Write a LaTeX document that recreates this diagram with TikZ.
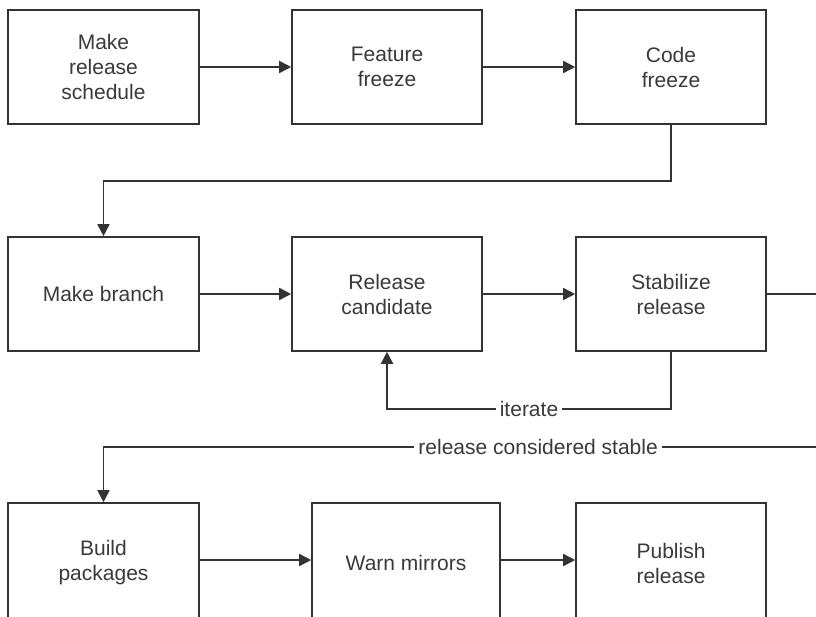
\documentclass[tikz,border=0pt]{standalone}
\usepackage{fontspec}
\setmainfont{Liberation Sans}
\usetikzlibrary{arrows.meta}
\definecolor{linec}{HTML}{333333}
\definecolor{textc}{HTML}{3A3A3A}
\tikzset{
  stepbox/.style={draw=linec, line width=1.6pt, minimum width=190pt, minimum height=114pt,
    inner sep=0pt, align=center, text=textc,
    font=\fontsize{21pt}{25pt}\selectfont},
  conn/.style={draw=linec, line width=1.6pt},
  arr/.style={conn, -{Triangle[length=12pt,width=12pt]}},
  lbl/.style={fill=white, inner xsep=4pt, inner ysep=1pt, text=textc,
    font=\fontsize{21pt}{25pt}\selectfont}
}
\begin{document}
\begin{tikzpicture}[x=1pt,y=-1pt]
\useasboundingbox (0,0) rectangle (816,616);
\fill[white] (0,0) rectangle (816,616);
% row 1
\node[stepbox, minimum width=191pt] (sched) at (103.5,67) {Make\\release\\schedule};
\node[stepbox] (feat) at (387,67) {Feature\\freeze};
\node[stepbox] (code) at (671,67) {Code\\freeze};
% row 2
\node[stepbox, minimum width=191pt] (branch) at (103.5,294) {Make branch};
\node[stepbox] (cand) at (387,294) {Release\\candidate};
\node[stepbox] (stab) at (671,294) {Stabilize\\release};
% row 3 (bottom edges lie below the picture)
\node[stepbox, minimum width=191pt, minimum height=120pt] (build) at (103.5,563) {Build\\packages};
\node[stepbox, minimum width=188pt, minimum height=120pt] (warn) at (406,563) {Warn mirrors};
\node[stepbox, minimum height=120pt] (pub) at (671,563) {Publish\\release};
% helper coordinates
\coordinate (c1) at (671,181);
\coordinate (c2) at (103.5,181);
\coordinate (it1) at (671,409);
\coordinate (it2) at (387,409);
\coordinate (outR) at (816,294);
\coordinate (inR) at (816,447);
\coordinate (st2) at (103.5,447);
% connectors
\draw[arr] (sched) -- (feat);
\draw[arr] (feat) -- (code);
\draw[arr] (code.south) -- (c1) -- (c2) -- (branch.north);
\draw[arr] (branch) -- (cand);
\draw[arr] (cand) -- (stab);
\draw[arr] (stab.south) -- (it1) -- node[lbl, pos=0.5] {iterate} (it2) -- (cand.south);
\draw[conn] (stab.east) -- (outR);
\draw[arr] (inR) -- node[lbl, pos=0.39] {release considered stable} (st2) -- (build.north);
\draw[arr] (build.east |- 0,560) -- (warn.west |- 0,560);
\draw[arr] (warn.east |- 0,560) -- (pub.west |- 0,560);
\end{tikzpicture}
\end{document}
